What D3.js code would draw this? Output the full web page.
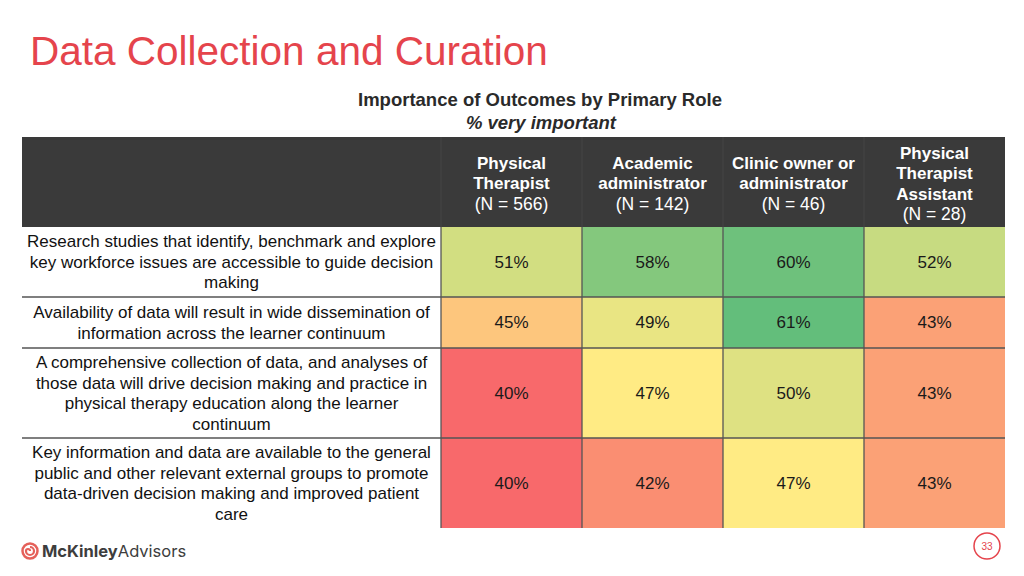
<!DOCTYPE html>
<html><head><meta charset="utf-8">
<script src="https://cdn.jsdelivr.net/npm/d3@7"></script>
<style>body{margin:0;background:#fff}svg{display:block;font-family:"Liberation Sans",Arial,sans-serif}</style>
</head><body><svg id="c" width="1024" height="576"></svg>
<script>
const roles = [["Physical","Therapist"],["Academic","administrator"],["Clinic owner or","administrator"],["Physical","Therapist","Assistant"]];
const counts = ["(N = 566)","(N = 142)","(N = 46)","(N = 28)"];
const outcomes = [
  ["Research studies that identify, benchmark and explore","key workforce issues are accessible to guide decision","making"],
  ["Availability of data will result in wide dissemination of","information across the learner continuum"],
  ["A comprehensive collection of data, and analyses of","those data will drive decision making and practice in","physical therapy education along the learner","continuum"],
  ["Key information and data are available to the general","public and other relevant external groups to promote","data-driven decision making and improved patient","care"]
];
const values = [
  [51,58,60,52],
  [45,49,61,43],
  [40,47,50,43],
  [40,42,47,43]
];
const rowHeights = [70,51,90,90];

const svg = d3.select("#c");
const left = 22, labelRight = 441, right = 1005, headTop = 137, headBot = 227;

svg.append("text").attr("x",30).attr("y",65).attr("font-size",40.5).attr("fill","#e5444c").text("Data Collection and Curation");
svg.append("text").attr("x",540).attr("y",106).attr("text-anchor","middle").attr("font-size",18.5).attr("font-weight","bold").attr("fill","#2a2a2a").text("Importance of Outcomes by Primary Role");
svg.append("text").attr("x",541).attr("y",129).attr("text-anchor","middle").attr("font-size",18.5).attr("font-weight","bold").attr("font-style","italic").attr("fill","#2a2a2a").text("% very important");

const x = d3.scaleBand().domain(d3.range(roles.length)).range([labelRight,right]);
const cum = [headBot]; rowHeights.forEach((h,i)=>cum.push(cum[i]+h));
const y = i => cum[i];
const color = d3.scaleLinear().domain([d3.min(values.flat()), d3.median(values.flat()), d3.max(values.flat())]).range(["#F8696B","#FFEB84","#63BE7B"]);

// header
svg.append("rect").attr("x",left).attr("y",headTop).attr("width",right-left).attr("height",headBot-headTop).attr("fill","#3a3a3a");
roles.forEach((r,j)=>{
  const lines = r.concat([counts[j]]);
  const cx = x(j)+x.bandwidth()/2;
  const mid = (headTop+headBot)/2 + 1.5;
  const lh = 20.5;
  const y0 = mid - (lines.length-1)*lh/2;
  lines.forEach((t,k)=>{
    svg.append("text").attr("x",cx).attr("y",y0+k*lh).attr("dy","0.35em").attr("text-anchor","middle")
      .attr("font-size",k<r.length?17:17.5).attr("font-weight",k<r.length?"bold":"normal").attr("fill","#fff").text(t);
  });
  svg.append("line").attr("x1",x(j)).attr("x2",x(j)).attr("y1",headTop).attr("y2",headBot).attr("stroke","#444");
});

// cells
values.forEach((row,i)=>{
  row.forEach((v,j)=>{
    svg.append("rect").attr("x",x(j)).attr("y",y(i)).attr("width",x.bandwidth()).attr("height",rowHeights[i]).attr("fill",color(v));
    svg.append("text").attr("x",x(j)+x.bandwidth()/2).attr("y",y(i)+rowHeights[i]/2).attr("dy","0.35em").attr("text-anchor","middle")
      .attr("font-size",17).attr("fill","#1a1a1a").text(v+"%");
  });
  const lines = outcomes[i];
  const lh = 20.5;
  const y0 = y(i)+rowHeights[i]/2 - (lines.length-1)*lh/2;
  lines.forEach((t,k)=>{
    svg.append("text").attr("x",(left+labelRight)/2).attr("y",y0+k*lh).attr("dy","0.35em").attr("text-anchor","middle")
      .attr("font-size",17).attr("fill","#111").text(t);
  });
});
// grid lines
for(let i=1;i<values.length;i++){
  svg.append("line").attr("x1",left).attr("x2",right).attr("y1",y(i)).attr("y2",y(i)).attr("stroke","#555").attr("stroke-width",1.3);
}
for(let j=0;j<roles.length;j++){
  svg.append("line").attr("x1",x(j)).attr("x2",x(j)).attr("y1",headBot).attr("y2",cum[values.length]).attr("stroke","#555").attr("stroke-width",1.3);
}

// logo
const lg = svg.append("g").attr("transform","translate(30,551)");
lg.append("circle").attr("r",7.5).attr("fill","none").attr("stroke","#e5605a").attr("stroke-width",2.5);
lg.append("path").attr("d","M0,-4 A4,4 0 1,1 -4,0 A2,2 0 1,1 0,0").attr("fill","none").attr("stroke","#e5605a").attr("stroke-width",2.2);
const lt = svg.append("text").attr("x",42).attr("y",557).attr("font-size",16.5).attr("fill","#3d3d3d").attr("font-family","Inter, 'Open Sans', sans-serif");
lt.append("tspan").attr("font-weight","bold").text("McKinley");
lt.append("tspan").attr("font-weight","normal").text("Advisors");

// page number
svg.append("circle").attr("cx",987).attr("cy",546).attr("r",13).attr("fill","#fff").attr("stroke","#e5444c").attr("stroke-width",1.5);
svg.append("text").attr("x",987).attr("y",546).attr("dy","0.35em").attr("text-anchor","middle").attr("font-size",10).attr("fill","#e5444c").text("33");
</script></body></html>
